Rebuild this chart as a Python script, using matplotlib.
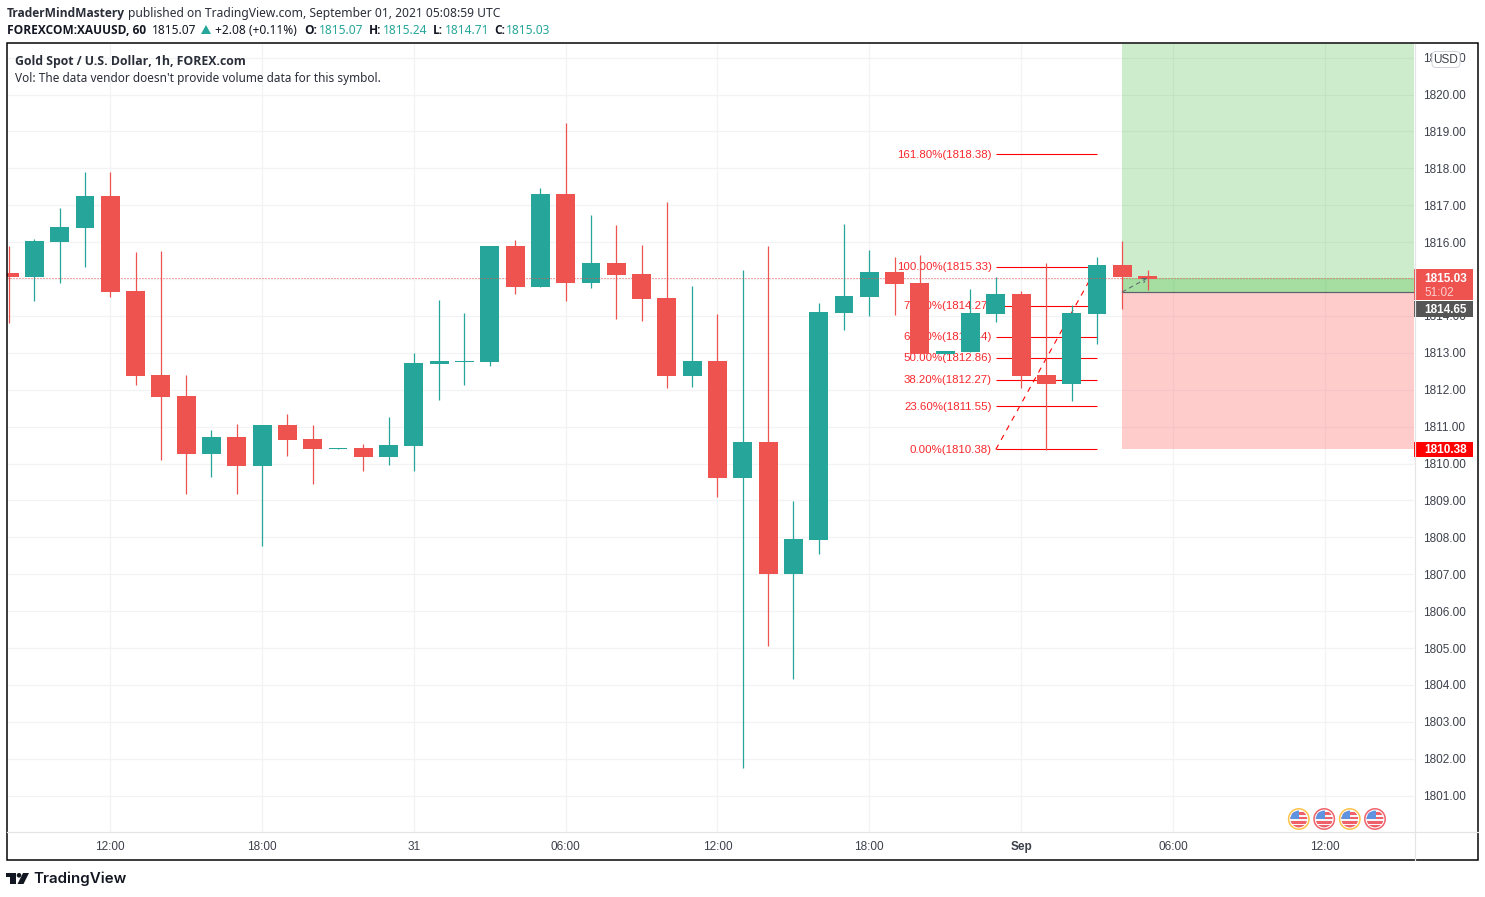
import matplotlib
matplotlib.use("Agg")
import matplotlib.pyplot as plt
from matplotlib.patches import Rectangle, Circle, Polygon, FancyBboxPatch

# ---- data -------------------------------------------------------------
bar_index = list(range(-4, 42))
opens = [1815.17,1815.06,1816.01,1816.38,1817.25,1814.68,1812.40,1811.84,1810.27,1810.73,
         1809.94,1811.05,1810.67,1810.40,1810.43,1810.18,1810.48,1812.70,1812.75,1812.75,
         1815.90,1814.79,1817.30,1814.89,1815.44,1815.14,1814.49,1812.37,1812.78,1809.61,
         1810.59,1807.01,1807.93,1814.08,1814.52,1815.19,1814.90,1812.97,1813.03,1814.06,
         1814.60,1812.40,1812.16,1814.06,1815.39,1815.09]
closes = [1815.06,1816.03,1816.41,1817.25,1814.65,1812.38,1811.81,1810.27,1810.73,1809.94,
          1811.05,1810.64,1810.40,1810.42,1810.18,1810.51,1812.73,1812.78,1812.78,1815.90,
          1814.79,1817.30,1814.89,1815.44,1815.11,1814.46,1812.38,1812.78,1809.61,1810.59,
          1807.01,1807.95,1814.11,1814.54,1815.19,1814.87,1812.97,1813.06,1814.08,1814.60,
          1812.38,1812.16,1814.08,1815.39,1815.06,1815.01]
highs = [1815.90,1816.09,1816.93,1817.90,1817.90,1815.73,1815.76,1812.40,1810.92,1811.08,
         1811.05,1811.35,1811.05,1810.43,1810.53,1811.27,1813.00,1814.43,1814.08,1815.90,
         1816.06,1817.47,1819.23,1816.73,1816.46,1815.92,1817.09,1814.81,1814.06,1815.25,
         1815.90,1808.98,1814.35,1816.49,1815.79,1815.60,1815.66,1813.06,1814.74,1815.06,
         1814.68,1815.44,1814.30,1815.60,1816.04,1815.24]
lows = [1813.81,1814.41,1814.90,1815.33,1814.52,1812.13,1810.10,1809.18,1809.64,1809.18,
        1807.77,1810.21,1809.45,1810.40,1809.80,1809.97,1809.80,1811.73,1812.13,1812.65,
        1814.60,1814.79,1814.41,1814.76,1813.92,1813.86,1812.05,1812.08,1809.10,1801.75,
        1805.06,1804.17,1807.55,1813.62,1814.00,1814.03,1812.97,1812.97,1813.03,1813.84,
        1812.05,1810.37,1811.70,1813.24,1814.19,1814.71]

price_ticks = list(range(1801, 1822))
time_ticks = [0, 6, 12, 18, 24, 30, 36, 42, 48]
time_labels = ["12:00", "18:00", "31", "06:00", "12:00", "18:00", "Sep", "06:00", "12:00"]

fib_pct = ["161.80%", "100.00%", "78.60%", "61.80%", "50.00%", "38.20%", "23.60%", "0.00%"]
fib_levels = [1818.38, 1815.33, 1814.27, 1813.44, 1812.86, 1812.27, 1811.55, 1810.38]
fib_start, fib_end = 35, 39

last_price = 1815.03
entry_price = 1814.65
stop_price = 1810.38
target_price = 1826.00
pos_start, pos_entry_end = 40, 41

UP, DOWN = "#26a69a", "#ef5350"
SANS = "Noto Sans"
BOLD = "Open Sans"
TICK = "Liberation Sans"

# ---- layout -----------------------------------------------------------
W, H = 1485, 897
fig = plt.figure(figsize=(W / 100, H / 100), dpi=100, facecolor="white")
PL, PT, PR, PB = 7, 44, 1414.5, 832
X0 = 110.3
ax = fig.add_axes([PL / W, 1 - PB / H, (PR - PL) / W, (PB - PT) / H])
ax.set_xlim((PL - X0) / 25.3, (PR - X0) / 25.3)
ax.set_ylim(1820 - (PB - 94.5) / 36.9, 1820 + (94.5 - PT) / 36.9)
for s in ax.spines.values():
    s.set_visible(False)

px = 0.72
ax.set_axisbelow(True)
ax.set_yticks(price_ticks)
ax.set_yticklabels([f"{p}.00" for p in price_ticks], fontfamily=TICK, fontsize=8.5, color="#3c404b")
ax.set_xticks(time_ticks)
ax.set_xticklabels(time_labels, fontfamily=TICK, fontsize=8.5, color="#3c404b")
for t, l in zip(ax.get_xticklabels(), time_labels):
    if l == "Sep":
        t.set_fontweight("bold")
ax.yaxis.tick_right()
ax.tick_params(axis="y", length=0, pad=6.2)
ax.tick_params(axis="x", length=0, pad=6.3)
ax.grid(True, color="#f2f3f5", lw=1.3 * px)

# position tool
xr = ax.get_xlim()[1]
ax.add_patch(Rectangle((pos_start, entry_price), xr - pos_start, target_price - entry_price,
                       fc="#4cbe46", alpha=0.28, ec="none", zorder=1))
ax.add_patch(Rectangle((pos_start, stop_price), xr - pos_start, entry_price - stop_price,
                       fc="#ff5252", alpha=0.29, ec="none", zorder=1))
ax.add_patch(Rectangle((pos_start, entry_price), xr - pos_start, last_price - entry_price,
                       fc="#4cbe46", alpha=0.30, ec="none", zorder=1))
ax.plot([pos_start, xr], [entry_price, entry_price], color="#5d606b", lw=1.2 * px, zorder=2)

# fib tool
for pct, lev in zip(fib_pct, fib_levels):
    ax.plot([fib_start, fib_end], [lev, lev], color="#ff0000", lw=1.1 * px, zorder=3, solid_capstyle="butt")
    ax.annotate(f"{pct}({lev:.2f})", (fib_start, lev), xytext=(-3, -0.3), textcoords="offset points",
                ha="right", va="center", color="#f8282d", fontsize=8.25, fontfamily=TICK, zorder=3)
ax.plot([fib_start, fib_end], [fib_levels[-1], fib_levels[1]], color="#ff0000", lw=1.1 * px,
        ls=(0, (5, 5)), zorder=3)

# candles
for x, op, cl, hi, lo in zip(bar_index, opens, closes, highs, lows):
    c = UP if cl >= op else DOWN
    ax.plot([x, x], [lo, hi], color=c, lw=1.25 * px, zorder=4, solid_capstyle="butt")
    top, bot = max(op, cl), min(op, cl)
    ax.bar(x, max(top - bot, 0.03), width=0.75, bottom=bot, color=c, lw=0, zorder=5)

ax.axhline(last_price, color="#ef5350", lw=1 * px, ls=(0, (1, 2)), zorder=6)
ax.annotate("", xy=(pos_entry_end, last_price), xytext=(pos_start, entry_price), zorder=7,
            arrowprops=dict(arrowstyle="->", color="#5d606b", lw=1 * px, ls=(0, (4, 4)),
                            shrinkA=0, shrinkB=0, mutation_scale=8))

# ---- overlay in pixel coordinates --------------------------------------
ui = fig.add_axes([0, 0, 1, 1], zorder=10)
ui.set_xlim(0, W)
ui.set_ylim(H, 0)
ui.axis("off")
ui.patch.set_alpha(0)
renderer = fig.canvas.get_renderer()


def price_y(p):
    return H - ax.transData.transform((0, p))[1]


def T(x, y, s, x_end=None, **kw):
    kw.setdefault("fontfamily", SANS)
    kw.setdefault("fontsize", 8.6)
    kw.setdefault("color", "#131722")
    kw.setdefault("va", "center")
    t = ui.text(x, y, s, **kw)
    if x_end is not None:
        w = t.get_window_extent(renderer).width
        t.set_fontsize(t.get_fontsize() * (x_end - x) / w)
    return t


# separators and frame
ui.plot([PR, PR], [44, 860], color="#e3e4e6", lw=1.2 * px)
ui.plot([7, 1478], [PB, PB], color="#e3e4e6", lw=1.2 * px)
ui.add_patch(Rectangle((6.6, 43.5), 1471.8, 817, fc="none", ec="black", lw=1.5 * px))

# header
DARK = "#2a2e39"
T(7, 13, "TraderMindMastery", x_end=125, fontfamily=BOLD, fontweight="bold", color=DARK)
T(128, 13, "published on TradingView.com, September 01, 2021 05:08:59 UTC", x_end=501, color=DARK)
T(7, 30.5, "FOREXCOM:XAUUSD, 60", x_end=146, fontfamily=BOLD, fontweight="bold")
T(152, 30.5, "1815.07")
ui.add_patch(Polygon([(201, 34), (211, 34), (206, 25)], fc=UP, ec="none"))
T(215, 30.5, "+2.08 (+0.11%)")
for x1, lab, x2, val in [(304.5, "O:", 318.5, "1815.07"), (368.5, "H:", 383, "1815.24"),
                         (433, "L:", 444.5, "1814.71"), (494, "C:", 505.5, "1815.03")]:
    T(x1, 30.5, lab, fontfamily=BOLD, fontweight="bold")
    T(x2, 30.5, val, color=UP)

T(15, 61, "Gold Spot / U.S. Dollar, 1h, FOREX.com", x_end=244, fontfamily=BOLD, fontweight="bold", color=DARK)
T(15, 78.5, "Vol: The data vendor doesn't provide volume data for this symbol.", x_end=381, color=DARK)

# price tags
y_last, y_entry, y_stop = price_y(last_price), price_y(entry_price), price_y(stop_price)
TAG = dict(color="white", fontfamily=TICK, fontsize=8.5, fontweight="bold")
ui.add_patch(Rectangle((PR - 0.5, y_last - 9), 59, 31, fc=DOWN, ec="none"))
T(1424, y_last + 1, f"{last_price:.2f}", **TAG)
T(1424, y_last + 15, "51:02", color="#fbd0cf", fontfamily=TICK, fontsize=8.5)
ui.add_patch(Rectangle((PR - 0.5, y_entry + 9.3), 59, 16, fc="#555555", ec="none"))
T(1424, y_entry + 18, f"{entry_price:.2f}", **TAG)
ui.add_patch(Rectangle((PR - 0.5, y_stop - 7.5), 59, 15.5, fc="#ff0000", ec="none"))
T(1424, y_stop + 1, f"{stop_price:.2f}", **TAG)

# currency button
ui.add_patch(FancyBboxPatch((1433, 52.5), 26, 14, boxstyle="round,pad=1,rounding_size=4",
                            fc="white", ec="#d1d4dc", lw=1 * px))
T(1446, 60, "USD", ha="center", fontfamily=TICK, fontsize=8.5, color="#3c404b")

# event flags
for cx, ring in zip([1298.8, 1324.2, 1349.8, 1375], ["#ffc247", "#ef6068", "#ffc247", "#ef6068"]):
    cy = 819
    ui.add_patch(Circle((cx, cy), 10.4, fc="white", ec="none"))
    disc = Circle((cx, cy), 8.4, fc="#f6f7fa", ec="none")
    ui.add_patch(disc)
    for y0, h in ((cy - 6.5, 2.4), (cy - 2, 2.4), (cy + 2.5, 2.2), (cy + 6, 3)):
        r = Rectangle((cx - 10, y0), 20, h, fc="#ef6068", ec="none")
        ui.add_patch(r)
        r.set_clip_path(disc)
    r = Rectangle((cx - 10, cy - 9), 10.5, 9, fc="#5f93e0", ec="none")
    ui.add_patch(r)
    r.set_clip_path(disc)
    ui.add_patch(Circle((cx, cy), 10.2, fc="none", ec=ring, lw=1.5 * px))

# logo
ui.add_patch(Polygon([(6, 873), (15.5, 873), (15.5, 884), (10, 884), (10, 877.5), (6, 877.5)], fc="#131722", ec="none"))
ui.add_patch(Circle((19, 875.3), 2.3, fc="#131722", ec="none"))
ui.add_patch(Polygon([(23, 873), (29, 873), (23.5, 884), (17.5, 884)], fc="#131722", ec="none"))
T(33, 878.5, "TradingView", x_end=125.5, fontfamily="Inter", fontweight="semibold", color="#131722")

fig.savefig("out.png", dpi=100, facecolor="white")
